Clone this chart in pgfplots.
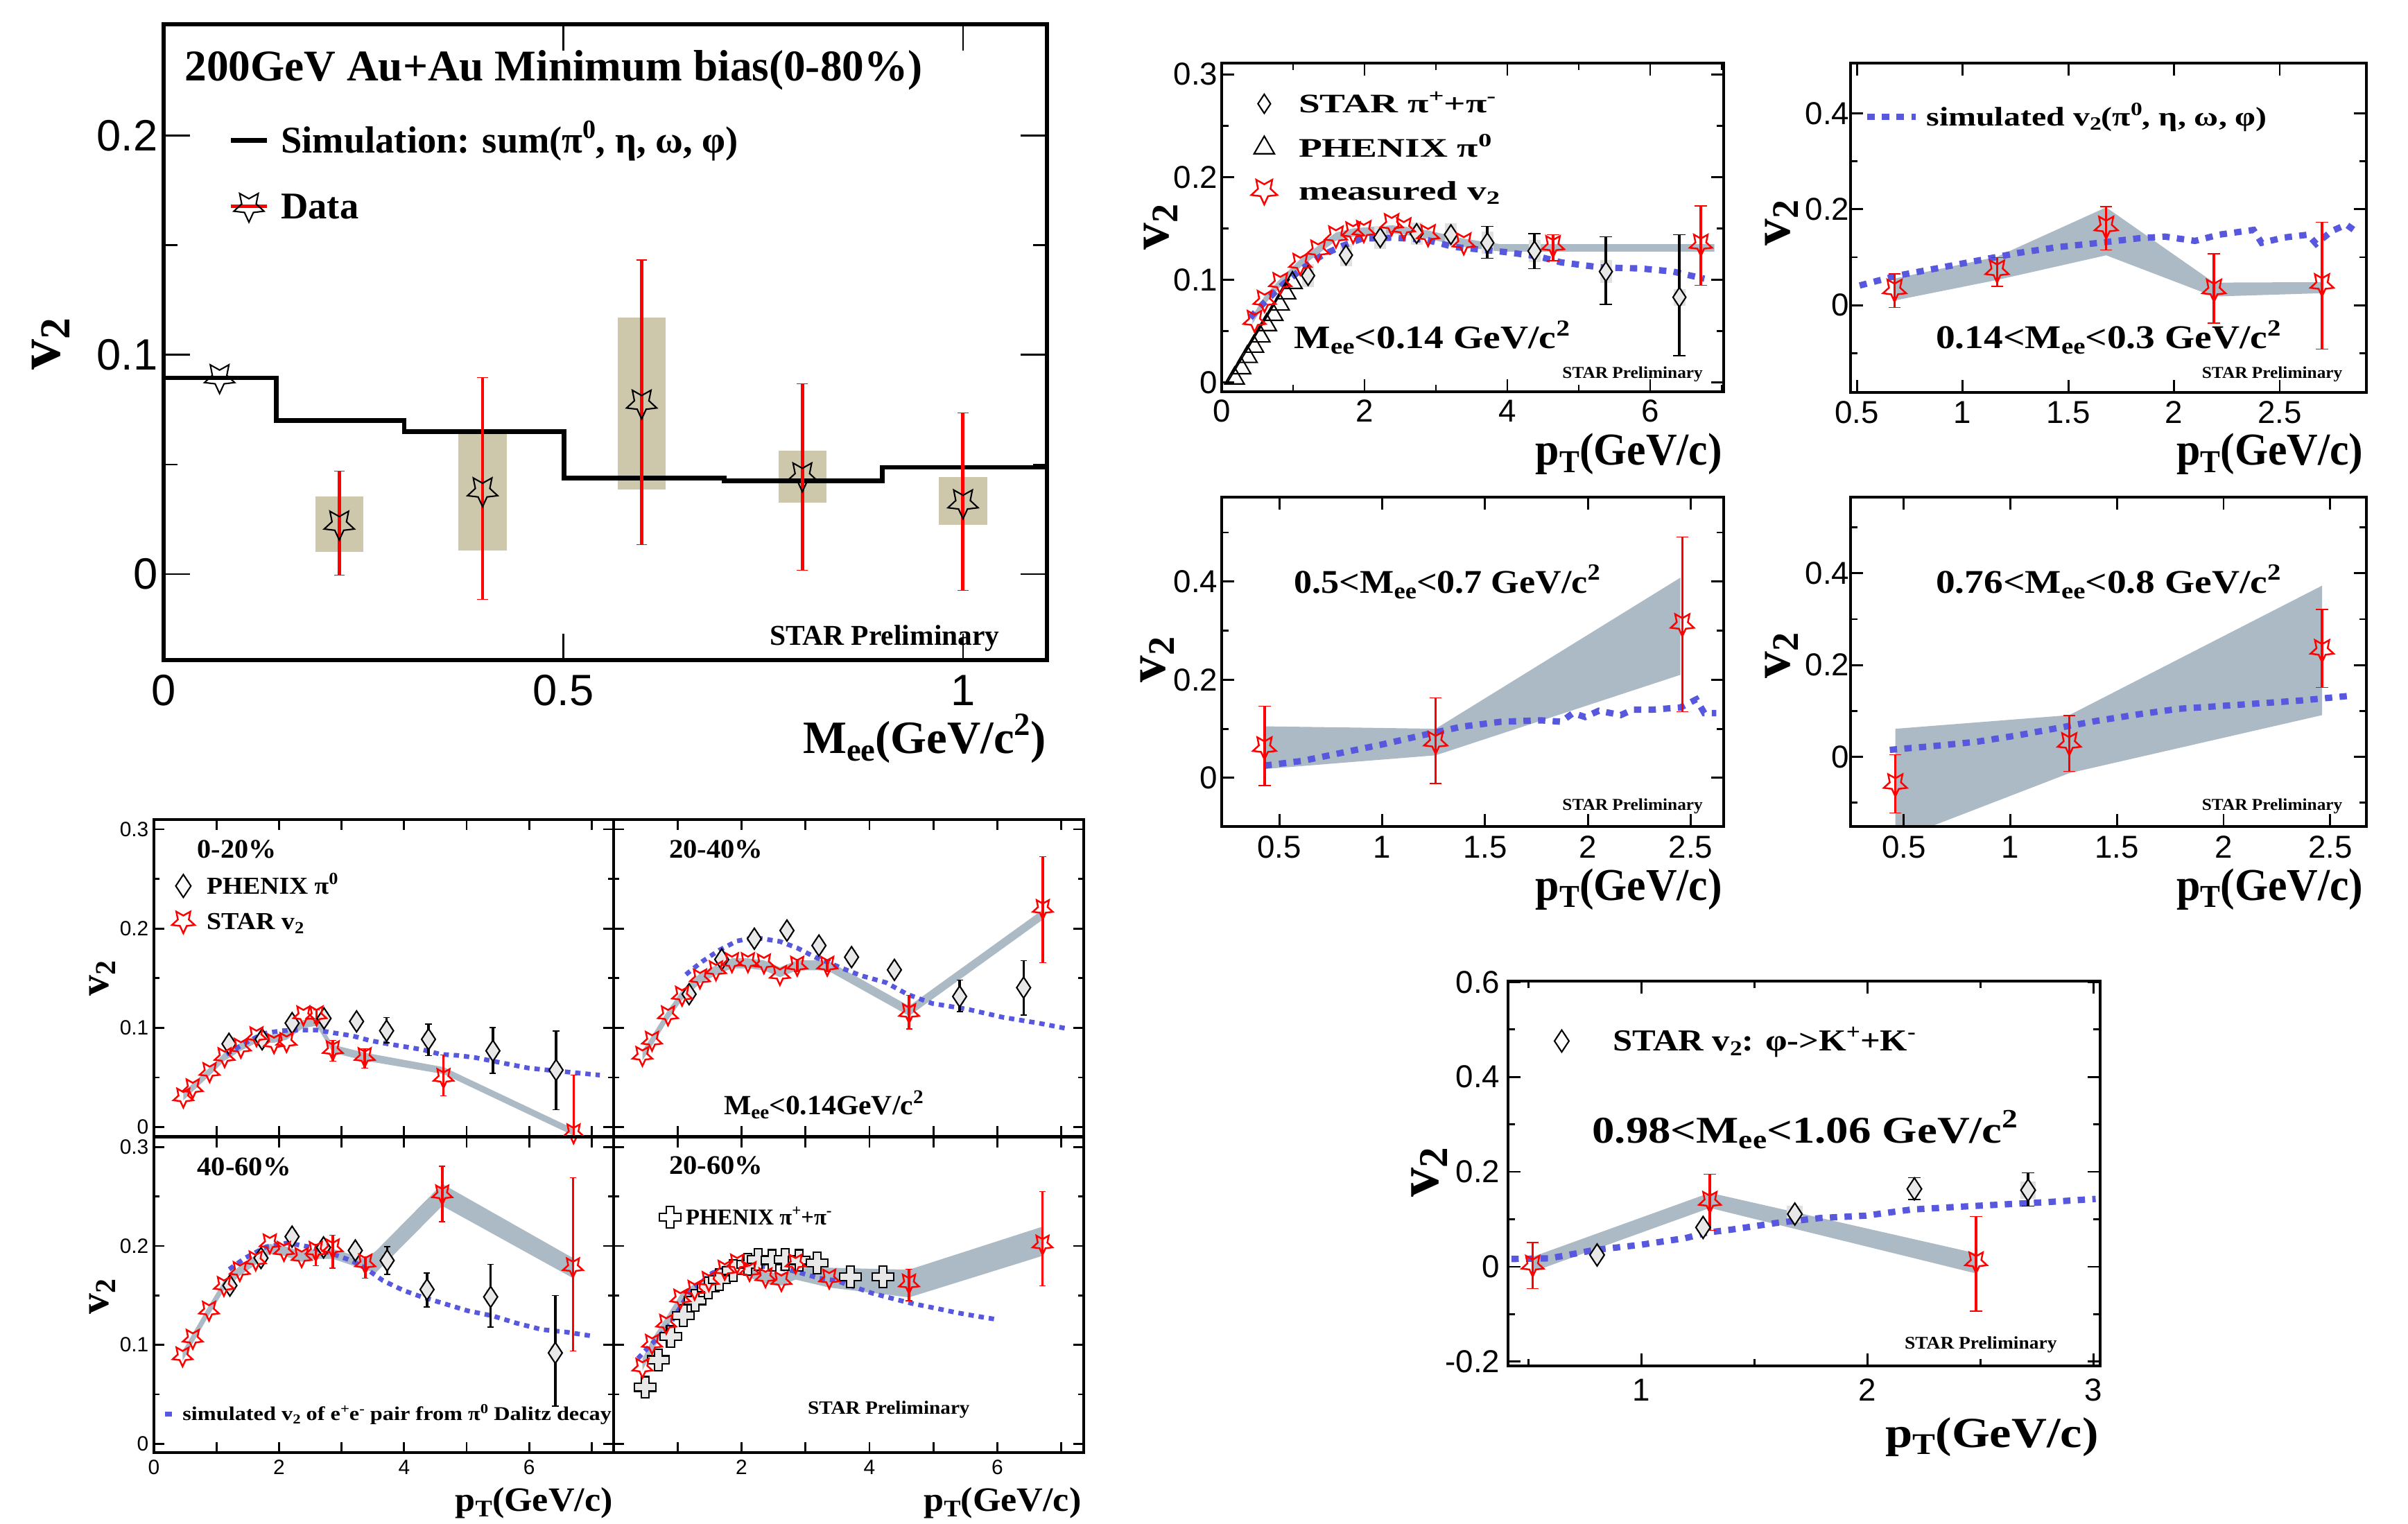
\documentclass[border=0pt]{standalone}
\usepackage{pgfplots}
\pgfplotsset{compat=1.18}
\usepackage{graphicx}
\usepackage{fontspec}
\setmainfont{Liberation Serif}
\newfontfamily\hv{Liberation Sans}

\definecolor{simblue}{RGB}{88,88,222}
\definecolor{bandc}{RGB}{172,186,197}
\definecolor{tanc}{RGB}{205,199,172}
\definecolor{sysg}{RGB}{224,224,224}
\definecolor{dfill}{RGB}{232,232,232}

\newcommand\fs[1]{\fontsize{#1}{#1}\selectfont}
\newcommand\T[3]{{\fs{#1}\bfseries\scalebox{#2}[1]{#3}}}
\newcommand\sub[1]{\raisebox{-0.35ex}{\scalebox{0.7}{#1}}}
\newcommand\sups[1]{\raisebox{0.85ex}{\scalebox{0.7}{#1}}}
\newcommand\LT[2]{\raisebox{0pt}[#1][0pt]{#2}}

% ROOT style markers: open star (point down), tall diamond, open cross
\newdimen\mkin
\pgfdeclareplotmark{ostar}{%
  \mkin=0.48\pgfplotmarksize\relax
  \pgfpathmoveto{\pgfpointpolar{270}{\pgfplotmarksize}}%
  \pgfpathlineto{\pgfpointpolar{306}{\mkin}}%
  \pgfpathlineto{\pgfpointpolar{342}{\pgfplotmarksize}}%
  \pgfpathlineto{\pgfpointpolar{18}{\mkin}}%
  \pgfpathlineto{\pgfpointpolar{54}{\pgfplotmarksize}}%
  \pgfpathlineto{\pgfpointpolar{90}{\mkin}}%
  \pgfpathlineto{\pgfpointpolar{126}{\pgfplotmarksize}}%
  \pgfpathlineto{\pgfpointpolar{162}{\mkin}}%
  \pgfpathlineto{\pgfpointpolar{198}{\pgfplotmarksize}}%
  \pgfpathlineto{\pgfpointpolar{234}{\mkin}}%
  \pgfpathclose\pgfusepathqstroke}
\pgfdeclareplotmark{tdia}{%
  \mkin=0.66\pgfplotmarksize\relax
  \pgfpathmoveto{\pgfqpoint{0pt}{\pgfplotmarksize}}%
  \pgfpathlineto{\pgfqpoint{\mkin}{0pt}}%
  \pgfpathlineto{\pgfqpoint{0pt}{-\pgfplotmarksize}}%
  \pgfpathlineto{\pgfqpoint{-\mkin}{0pt}}%
  \pgfpathclose\pgfusepathqfillstroke}
\pgfdeclareplotmark{ocross}{%
  \mkin=0.36\pgfplotmarksize\relax
  \pgfpathmoveto{\pgfqpoint{\mkin}{\pgfplotmarksize}}%
  \pgfpathlineto{\pgfqpoint{\mkin}{\mkin}}%
  \pgfpathlineto{\pgfqpoint{\pgfplotmarksize}{\mkin}}%
  \pgfpathlineto{\pgfqpoint{\pgfplotmarksize}{-\mkin}}%
  \pgfpathlineto{\pgfqpoint{\mkin}{-\mkin}}%
  \pgfpathlineto{\pgfqpoint{\mkin}{-\pgfplotmarksize}}%
  \pgfpathlineto{\pgfqpoint{-\mkin}{-\pgfplotmarksize}}%
  \pgfpathlineto{\pgfqpoint{-\mkin}{-\mkin}}%
  \pgfpathlineto{\pgfqpoint{-\pgfplotmarksize}{-\mkin}}%
  \pgfpathlineto{\pgfqpoint{-\pgfplotmarksize}{\mkin}}%
  \pgfpathlineto{\pgfqpoint{-\mkin}{\mkin}}%
  \pgfpathlineto{\pgfqpoint{-\mkin}{\pgfplotmarksize}}%
  \pgfpathclose\pgfusepathqfillstroke}

\pgfplotsset{
  rootax/.style={scale only axis, anchor=south west, axis on top, tick pos=both, tick align=inside,
    axis line style={line width=1.3pt}, tick style={line width=0.8pt, black},
    major tick length=0.18cm, minor tick length=0.1cm,
    tick label style={inner sep=0pt}, legend cell align=left},
  sim/.style={simblue, line width=2.6pt, dash pattern=on 3pt off 3pt, forget plot},
  sims/.style={simblue, line width=1.9pt, dash pattern=on 2.2pt off 2pt, forget plot},
  band/.style={fill=bandc, draw=none, forget plot},
  sysbox/.style={draw=none, mark=none, forget plot, error bars/y dir=both, error bars/y explicit,
    error bars/error mark=none, error bars/error bar style={draw=sysg, line width=#1}},
  rstar/.style={red, only marks, mark=ostar, mark size=#1, mark options={line width=0.7pt}, forget plot},
  kdia/.style={black, only marks, mark=tdia, mark size=#1, mark options={fill=dfill, line width=0.6pt}, forget plot},
  errb/.style={error bars/y dir=both, error bars/y explicit, error bars/error bar style={line width=1pt, mark size=#1}},
  mkleg/.style={legend image code/.code={\path (-0.2cm,0cm) (0.2cm,0cm); \draw[##1] plot coordinates {(0cm,0cm)};}},
  lnleg/.style={legend image code/.code={\draw[##1] (0cm,0cm) -- (#1,0cm);}},
  dataleg/.style={legend image code/.code={\draw[red, line width=1.4pt] (0cm,0cm) -- (0.52cm,0cm);
      \draw[black, line width=0.6pt, mark size=6.5pt] plot[mark=ostar] coordinates {(0.26cm,0cm)};}},
  leg/.style n args={4}{legend style={at={(#1,#2)}, anchor=north west, draw=none, fill=none,
      inner sep=0pt, row sep=#3, column sep=#4, nodes={inner sep=0pt, text depth=0pt}}},
}

\begin{document}
\begin{tikzpicture}
\useasboundingbox (0,0) rectangle (34.73cm,21.98cm);

% ---------------- minimum bias vs M_ee ----------------
\begin{axis}[rootax, at={(2.36cm,12.46cm)}, width=12.74cm, height=9.17cm,
  xmin=0, xmax=1.105, ymin=-0.0392, ymax=0.2508,
  xtick={0,0.5,1}, xticklabels={0,0.5,1}, ytick={0,0.1,0.2}, yticklabels={0,0.1,0.2}, minor ytick={0.05,0.15},
  major tick length=0.38cm, minor tick length=0.2cm, axis line style={line width=1.7pt},
  tick label style={font=\hv\fs{18}}, xticklabel style={yshift=-0.21cm}, yticklabel style={xshift=-0.08cm},
  leg={0.073}{0.8375}{0.584cm}{0.17cm}, legend style={font=\bfseries\fs{15.5}}]
\addplot[draw=none, mark=none, forget plot, error bars/y dir=both, error bars/y explicit,
  error bars/error mark=none, error bars/error bar style={draw=tanc, line width=19.7pt}]
  table[x=x, y=y, y error plus=ep, y error minus=em] {
x y ep em
0.2197 0.0228 0.0126 0.0128
0.399 0.038 0.028 0.0273
0.598 0.078 0.039 0.0393
0.799 0.0448 0.0116 0.0123
1.0 0.0325 0.0118 0.0101
};
\addplot[const plot, black, line width=1.9pt, forget plot] coordinates {
  (0,-0.0392) (0,0.0895) (0.141,0.070) (0.301,0.065) (0.501,0.0437) (0.701,0.0426) (0.899,0.0487) (1.105,0.0487)};
\addplot[black, only marks, mark=ostar, mark size=6.5pt, mark options={line width=0.6pt}, forget plot]
  coordinates {(0.070,0.0896)};
\addplot[black, only marks, mark=ostar, mark size=6.5pt, mark options={line width=0.6pt}, forget plot,
  error bars/y dir=both, error bars/y explicit, error bars/error bar style={red, line width=1.4pt, mark size=2.2pt}]
  table[x=x, y=y, y error plus=ep, y error minus=em] {
x y ep em
0.2197 0.0228 0.0242 0.0232
0.399 0.038 0.0516 0.0496
0.598 0.078 0.0653 0.0646
0.799 0.0448 0.0421 0.043
1.0 0.0325 0.041 0.0399
};
\addlegendimage{lnleg=0.52cm, black, line width=1.9pt}
\addlegendentry{\LT{0.36cm}{Simulation: sum(π\sups{0}, η, ω, φ)}}
\addlegendimage{dataleg}
\addlegendentry{\LT{0.36cm}{Data}}
\end{axis}

% ---------------- M_ee < 0.14 ----------------
\begin{axis}[rootax, at={(17.62cm,16.33cm)}, width=7.24cm, height=4.74cm,
  xmin=0, xmax=7.03, ymin=-0.009, ymax=0.311,
  xtick={0,2,4,6}, xticklabels={0,2,4,6}, minor xtick={1,3,5,7},
  ytick={0,0.1,0.2,0.3}, yticklabels={0,0.1,0.2,0.3}, minor ytick={0.05,0.15,0.25},
  tick label style={font=\hv\fs{13}}, xticklabel style={yshift=-0.11cm}, yticklabel style={xshift=-0.05cm},
  leg={0.0552}{0.9065}{0.33cm}{0.29cm}, legend style={font=\bfseries\fs{11}}]
\addplot[band] coordinates {(0.43,0.065) (0.60,0.084) (0.82,0.101) (1.10,0.120) (1.35,0.133) (1.60,0.146)
  (1.84,0.150) (2.0,0.151) (2.38,0.153) (2.55,0.152) (2.89,0.148) (3.39,0.140) (3.9,0.1347) (6.9,0.1347)
  (6.9,0.1275) (3.9,0.1275) (3.39,0.132) (2.89,0.140) (2.55,0.144) (2.38,0.145) (2.0,0.143) (1.84,0.142)
  (1.60,0.138) (1.35,0.125) (1.10,0.112) (0.82,0.093) (0.60,0.076) (0.43,0.057)};
\addplot[sysbox=4.8pt] table[x=x, y=y, y error=s] {
x y s
1.21 0.104 0.011
1.74 0.124 0.011
2.22 0.141 0.011
2.73 0.145 0.011
3.21 0.144 0.011
3.72 0.136 0.011
4.38 0.128 0.011
5.38 0.108 0.011
6.41 0.083 0.008
};
\addplot[sim] coordinates {(0.40,0.063) (0.57,0.076) (0.85,0.095) (1.13,0.111) (1.41,0.124) (1.69,0.133)
  (1.96,0.140) (2.40,0.141) (2.86,0.139) (3.25,0.132) (3.97,0.127) (4.42,0.123) (4.75,0.117) (5.31,0.112)
  (5.87,0.111) (6.32,0.108) (6.76,0.101)};
\addplot[black, line width=0.6pt, forget plot] coordinates {(0.08,0.0) (0.95,0.101)};
\addplot[black, only marks, mark=triangle, mark size=4.6pt, mark options={line width=0.6pt}, forget plot] coordinates {
  (0.18,0.004) (0.27,0.014) (0.36,0.025) (0.45,0.035) (0.54,0.045) (0.63,0.056) (0.72,0.066) (0.81,0.076) (0.90,0.087) (0.99,0.097)};
\addplot[kdia=4pt] coordinates {(1.21,0.104) (1.74,0.124) (2.22,0.141) (2.73,0.145) (3.21,0.144)};
\addplot[kdia=4pt, errb=2.5pt] table[x=x, y=y, y error plus=ep, y error minus=em] {
x y ep em
3.72 0.136 0.016 0.015
4.38 0.128 0.017 0.017
5.38 0.108 0.034 0.032
6.41 0.083 0.061 0.057
};
\addplot[rstar=4.8pt] coordinates {(0.46,0.0605) (0.60,0.080) (0.82,0.0973) (1.10,0.116) (1.35,0.129) (1.60,0.1427)
  (1.84,0.1467) (1.99,0.148) (2.38,0.1547) (2.55,0.1507) (2.89,0.144) (3.39,0.136)};
\addplot[rstar=4.8pt, errb=2.5pt] table[x=x, y=y, y error plus=ep, y error minus=em] {
x y ep em
4.64 0.1333 0.0107 0.0146
6.71 0.1347 0.0373 0.040
};
\addlegendimage{mkleg, black, only marks, mark=tdia, mark size=3.9pt, mark options={fill=white, line width=0.6pt}}
\addlegendentry{\LT{0.26cm}{\scalebox{1.43}[1]{STAR π\sups{+}+π\sups{-}}}}
\addlegendimage{mkleg, black, only marks, mark=triangle, mark size=4.8pt, mark options={line width=0.6pt}}
\addlegendentry{\LT{0.26cm}{\scalebox{1.43}[1]{PHENIX π\sups{0}}}}
\addlegendimage{mkleg, red, only marks, mark=ostar, mark size=5.6pt, mark options={line width=0.7pt}}
\addlegendentry{\LT{0.26cm}{\scalebox{1.43}[1]{measured v\sub{2}}}}
\end{axis}

% ---------------- 0.14 < M_ee < 0.3 ----------------
\begin{axis}[rootax, at={(26.69cm,16.32cm)}, width=7.44cm, height=4.75cm,
  xmin=0.47, xmax=2.91, ymin=-0.182, ymax=0.505,
  xtick={0.5,1,1.5,2,2.5}, xticklabels={0.5,1,1.5,2,2.5},
  ytick={0,0.2,0.4}, yticklabels={0,0.2,0.4}, minor ytick={-0.1,0.1,0.3},
  tick label style={font=\hv\fs{13}}, xticklabel style={yshift=-0.12cm}, yticklabel style={xshift=-0.01cm},
  leg={0.0255}{0.866}{0.2cm}{0.105cm}, legend style={font=\bfseries\fs{11}}]
\addplot[band] coordinates {(0.678,0.0554) (1.163,0.101) (1.679,0.204) (2.189,0.047) (2.70,0.048)
  (2.70,0.025) (2.189,0.018) (1.679,0.104) (1.163,0.0526) (0.678,0.0097)};
\addplot[sim] coordinates {(0.513,0.041) (0.685,0.061) (0.876,0.0766) (1.067,0.0926) (1.258,0.1086) (1.449,0.121)
  (1.64,0.1297) (1.831,0.1394) (1.956,0.143) (2.099,0.134) (2.213,0.147) (2.376,0.157) (2.414,0.13) (2.519,0.141)
  (2.634,0.147) (2.672,0.128) (2.748,0.155) (2.815,0.168) (2.863,0.153)};
\addplot[rstar=5pt, errb=2.5pt] table[x=x, y=y, y error plus=ep, y error minus=em] {
x y ep em
0.678 0.0326 0.0324 0.0376
1.163 0.0726 0.0268 0.0332
1.679 0.164 0.0417 0.0486
2.189 0.0326 0.0743 0.0703
2.70 0.044 0.1286 0.1354
};
\addlegendimage{lnleg=0.7cm, simblue, line width=2.6pt, dash pattern=on 3pt off 3pt}
\addlegendentry{\LT{0.26cm}{\scalebox{1.24}[1]{simulated v\sub{2}(π\sups{0}, η, ω, φ)}}}
\end{axis}

% ---------------- 0.5 < M_ee < 0.7 ----------------
\begin{axis}[rootax, at={(17.62cm,10.06cm)}, width=7.24cm, height=4.75cm,
  xmin=0.22, xmax=2.66, ymin=-0.099, ymax=0.572,
  xtick={0.5,1,1.5,2,2.5}, xticklabels={0.5,1,1.5,2,2.5},
  ytick={0,0.2,0.4}, yticklabels={0,0.2,0.4}, minor ytick={0.1,0.3,0.5},
  tick label style={font=\hv\fs{13}}, xticklabel style={yshift=-0.13cm}, yticklabel style={xshift=-0.05cm}]
\addplot[band] coordinates {(0.428,0.105) (0.844,0.1026) (1.26,0.100) (2.45,0.408) (2.45,0.21) (1.26,0.046) (0.428,0.018)};
\addplot[sim] coordinates {(0.428,0.025) (0.612,0.0346) (0.806,0.0513) (0.999,0.068) (1.192,0.0865) (1.386,0.1043)
  (1.579,0.1144) (1.773,0.1172) (1.87,0.1144) (1.928,0.132) (1.986,0.124) (2.053,0.1367) (2.16,0.128) (2.218,0.139)
  (2.315,0.139) (2.45,0.1434) (2.527,0.160) (2.566,0.132) (2.624,0.132)};
\addplot[rstar=5pt, errb=2.5pt] table[x=x, y=y, y error plus=ep, y error minus=em] {
x y ep em
0.428 0.0625 0.0835 0.0781
1.260 0.0736 0.0894 0.0853
2.459 0.3135 0.1775 0.1785
};
\end{axis}

% ---------------- 0.76 < M_ee < 0.8 ----------------
\begin{axis}[rootax, at={(26.69cm,10.06cm)}, width=7.44cm, height=4.75cm,
  xmin=0.25, xmax=2.67, ymin=-0.152, ymax=0.566,
  xtick={0.5,1,1.5,2,2.5}, xticklabels={0.5,1,1.5,2,2.5},
  ytick={0,0.2,0.4}, yticklabels={0,0.2,0.4}, minor ytick={-0.1,0.1,0.3,0.5},
  tick label style={font=\hv\fs{13}}, xticklabel style={yshift=-0.13cm}, yticklabel style={xshift=-0.01cm}]
\addplot[band] coordinates {(0.46,0.0609) (1.276,0.0907) (2.462,0.373) (2.462,0.0907) (1.276,-0.0358) (0.46,-0.182)};
\addplot[sim] coordinates {(0.434,0.015) (0.655,0.0239) (0.844,0.0328) (1.034,0.0466) (1.223,0.0627) (1.412,0.0788)
  (1.601,0.0925) (1.790,0.1045) (1.980,0.1104) (2.169,0.1164) (2.358,0.1224) (2.585,0.1325)};
\addplot[rstar=5pt, errb=2.5pt] table[x=x, y=y, y error plus=ep, y error minus=em] {
x y ep em
0.460 -0.0597 0.0645 0.0627
1.276 0.0299 0.0597 0.0615
2.462 0.2328 0.0884 0.0818
};
\end{axis}

% ---------------- 0.98 < M_ee < 1.06 ----------------
\begin{axis}[rootax, at={(21.75cm,2.28cm)}, width=8.54cm, height=5.55cm,
  xmin=0.41, xmax=3.03, ymin=-0.209, ymax=0.602,
  xtick={1,2,3}, xticklabels={1,2,3}, minor xtick={0.5,1.5,2.5},
  ytick={-0.2,0,0.2,0.4,0.6}, yticklabels={-0.2,0,0.2,0.4,0.6}, minor ytick={-0.1,0.1,0.3,0.5},
  tick label style={font=\hv\fs{13}}, xticklabel style={yshift=-0.18cm}, yticklabel style={xshift=-0.11cm},
  leg={0.0656}{0.874}{0.2cm}{0.53cm}, legend style={font=\bfseries\fs{12.5}}]
\addplot[band] coordinates {(0.519,0.021) (1.303,0.1558) (2.481,0.0283) (2.481,-0.0142) (1.303,0.1239) (0.519,-0.0106)};
\addplot[sysbox=6.5pt] table[x=x, y=y, y error=s] {
x y s
1.679 0.111 0.018
2.711 0.1614 0.018
};
\addplot[sim] coordinates {(0.425,0.0163) (0.595,0.0177) (0.794,0.0354) (0.994,0.046) (1.194,0.0602) (1.293,0.0722)
  (1.393,0.0779) (1.593,0.092) (1.792,0.1027) (1.992,0.1076) (2.192,0.1204) (2.391,0.126) (2.591,0.131)
  (2.790,0.136) (3.01,0.143)};
\addplot[kdia=4.5pt] coordinates {(0.804,0.0248) (1.273,0.0828) (1.679,0.111)};
\addplot[kdia=4.5pt, errb=2.5pt] table[x=x, y=y, y error plus=ep, y error minus=em] {
x y ep em
2.208 0.164 0.0236 0.0224
2.711 0.1614 0.0366 0.034
};
\addplot[rstar=4.7pt, errb=2.5pt] table[x=x, y=y, y error plus=ep, y error minus=em] {
x y ep em
0.519 0.0035 0.0475 0.0495
1.303 0.138 0.0567 0.0615
2.481 0.0106 0.0956 0.1041
};
\addlegendimage{mkleg, black, only marks, mark=tdia, mark size=4.5pt, mark options={fill=white, line width=0.6pt}}
\addlegendentry{\LT{0.29cm}{\scalebox{1.15}[1]{STAR v\sub{2}: φ->K\sups{+}+K\sups{-}}}}
\end{axis}

% ---------------- 0-20% ----------------
\begin{axis}[rootax, at={(2.22cm,5.59cm)}, width=6.63cm, height=4.57cm,
  xmin=0, xmax=7.35, ymin=-0.0093, ymax=0.3098,
  xtick={0,1,2,3,4,5,6,7}, xticklabels={}, ytick={0,0.1,0.2,0.3}, yticklabels={0,0.1,0.2,0.3},
  minor ytick={0.05,0.15,0.25}, major tick length=0.15cm, minor tick length=0.08cm,
  axis line style={line width=1.2pt},
  tick label style={font=\hv\fs{8.5}}, yticklabel style={xshift=-0.07cm},
  leg={0.0317}{0.828}{0.205cm}{0.13cm}, legend style={font=\bfseries\fs{10}}]
\addplot[band] coordinates {(0.47,0.035) (0.62,0.044) (0.89,0.060) (1.13,0.075) (1.39,0.085) (1.64,0.093) (1.92,0.093)
  (2.12,0.096) (2.39,0.108) (2.60,0.110) (2.86,0.083) (3.37,0.075) (4.63,0.0605) (6.71,-0.0015)
  (6.71,-0.0085) (4.63,0.0535) (3.37,0.067) (2.86,0.075) (2.60,0.102) (2.39,0.100) (2.12,0.088) (1.92,0.085)
  (1.64,0.085) (1.39,0.077) (1.13,0.067) (0.89,0.052) (0.62,0.036) (0.47,0.027)};
\addplot[sysbox=3.7pt] table[x=x, y=y, y error=s] {
x y s
1.20 0.0839 0.007
1.73 0.0885 0.007
2.21 0.1048 0.007
2.72 0.1095 0.007
3.24 0.1065 0.007
3.72 0.0971 0.007
4.39 0.0885 0.007
5.42 0.0769 0.007
6.43 0.0575 0.007
};
\addplot[sims] coordinates {(1.16,0.0734) (1.47,0.085) (1.75,0.0943) (2.04,0.0971) (2.32,0.0978) (2.60,0.0978)
  (2.89,0.0948) (3.17,0.092) (3.45,0.0873) (3.74,0.0839) (4.30,0.078) (4.58,0.0734) (4.87,0.0722) (5.15,0.0699)
  (5.43,0.0664) (6.00,0.0594) (6.56,0.0559) (7.13,0.0524)};
\addplot[kdia=4.3pt] coordinates {(1.20,0.0839) (1.73,0.0885) (2.21,0.1048) (2.72,0.1095) (3.24,0.1065)};
\addplot[kdia=4.3pt, errb=1.3pt] table[x=x, y=y, y error plus=ep, y error minus=em] {
x y ep em
3.72 0.0971 0.0135 0.0121
4.39 0.0885 0.0152 0.0163
5.42 0.0769 0.0233 0.0226
6.43 0.0575 0.0392 0.040
};
\addplot[rstar=4.3pt] coordinates {(0.47,0.0303) (0.62,0.0396) (0.89,0.0559) (1.13,0.0710) (1.39,0.0804) (1.64,0.092)
  (1.92,0.085) (2.12,0.0862) (2.39,0.113)};
\addplot[rstar=4.3pt, errb=1.3pt] table[x=x, y=y, y error plus=ep, y error minus=em] {
x y ep em
2.60 0.113 0.005 0.008
2.86 0.078 0.0093 0.0116
3.37 0.071 0.0082 0.0116
4.63 0.050 0.0229 0.0186
6.71 -0.0058 0.0582 0.01
};
\addlegendimage{mkleg, black, only marks, mark=tdia, mark size=4.7pt, mark options={fill=white, line width=0.6pt}}
\addlegendentry{\LT{0.233cm}{\scalebox{1.07}[1]{PHENIX π\sups{0}}}}
\addlegendimage{mkleg, red, only marks, mark=ostar, mark size=4.9pt, mark options={line width=0.7pt}}
\addlegendentry{\LT{0.233cm}{\scalebox{1.08}[1]{STAR v\sub{2}}}}
\end{axis}

% ---------------- 20-40% ----------------
\begin{axis}[rootax, at={(8.85cm,5.59cm)}, width=6.78cm, height=4.57cm,
  xmin=0, xmax=7.35, ymin=-0.0093, ymax=0.3098,
  xtick={0,1,2,3,4,5,6,7}, xticklabels={}, ytick={0,0.1,0.2,0.3}, yticklabels={},
  minor ytick={0.05,0.15,0.25}, major tick length=0.15cm, minor tick length=0.08cm,
  axis line style={line width=1.2pt}]
\addplot[band] coordinates {(0.45,0.077) (0.60,0.092) (0.85,0.118) (1.07,0.138) (1.35,0.155) (1.60,0.163) (1.85,0.170)
  (2.10,0.170) (2.35,0.168) (2.60,0.161) (2.87,0.168) (3.34,0.168) (4.62,0.122) (6.71,0.219)
  (6.71,0.209) (4.62,0.112) (3.34,0.158) (2.87,0.158) (2.60,0.151) (2.35,0.158) (2.10,0.160) (1.85,0.160)
  (1.60,0.153) (1.35,0.145) (1.07,0.128) (0.85,0.108) (0.60,0.082) (0.45,0.067)};
\addplot[sysbox=3.7pt] table[x=x, y=y, y error=s] {
x y s
1.18 0.1339 0.007
1.69 0.1689 0.007
2.20 0.1898 0.007
2.71 0.198 0.007
3.21 0.1829 0.007
3.72 0.1712 0.007
4.39 0.1584 0.007
5.41 0.1316 0.007
6.41 0.1405 0.007
};
\addplot[sims] coordinates {(1.13,0.1537) (1.38,0.1666) (1.65,0.1782) (1.93,0.1875) (2.21,0.191) (2.60,0.187)
  (2.87,0.1805) (3.15,0.1712) (3.59,0.1596) (3.87,0.1526) (4.26,0.1456) (4.59,0.1339) (4.98,0.1246) (5.53,0.1188)
  (6.09,0.1106) (6.64,0.1048) (7.11,0.099)};
\addplot[kdia=4.3pt] coordinates {(1.18,0.1339) (1.69,0.1689) (2.20,0.1898) (2.71,0.198) (3.21,0.1829) (3.72,0.1712) (4.39,0.1584)};
\addplot[kdia=4.3pt, errb=1.3pt] table[x=x, y=y, y error plus=ep, y error minus=em] {
x y ep em
5.41 0.1316 0.0164 0.0151
6.41 0.1405 0.0272 0.0275
};
\addplot[rstar=4.3pt] coordinates {(0.45,0.0722) (0.60,0.0874) (0.85,0.113) (1.07,0.1328) (1.35,0.1502) (1.60,0.1584)
  (1.85,0.1666) (2.10,0.1666) (2.35,0.1654) (2.60,0.1537)};
\addplot[rstar=4.3pt, errb=1.3pt] table[x=x, y=y, y error plus=ep, y error minus=em] {
x y ep em
2.87 0.163 0.006 0.006
3.34 0.163 0.005 0.006
4.62 0.1153 0.0175 0.0163
6.71 0.2201 0.0524 0.0547
};
\end{axis}

% ---------------- 40-60% ----------------
\begin{axis}[rootax, at={(2.22cm,1.03cm)}, width=6.63cm, height=4.55cm,
  xmin=0, xmax=7.35, ymin=-0.0088, ymax=0.310,
  xtick={0,1,2,3,4,5,6,7}, xticklabels={0,,2,,4,,6,}, ytick={0,0.1,0.2,0.3}, yticklabels={0,0.1,0.2,0.3},
  minor ytick={0.05,0.15,0.25}, major tick length=0.15cm, minor tick length=0.08cm,
  axis line style={line width=1.2pt},
  tick label style={font=\hv\fs{8.5}}, xticklabel style={yshift=-0.1cm}, yticklabel style={xshift=-0.07cm},
  leg={0.018}{0.1435}{0.2cm}{0.12cm}, legend style={font=\bfseries\fs{8}}]
\addplot[band] coordinates {(0.458,0.0938) (0.621,0.1116) (0.881,0.140) (1.119,0.165) (1.373,0.180) (1.627,0.191)
  (1.853,0.202) (2.079,0.200) (2.362,0.194) (2.588,0.197) (2.859,0.197) (3.379,0.187) (3.55,0.195) (4.61,0.2627) (6.70,0.1878)
  (6.70,0.1675) (4.61,0.2405) (3.55,0.173) (3.379,0.176) (2.859,0.187) (2.588,0.187) (2.362,0.184) (2.079,0.190)
  (1.853,0.192) (1.627,0.181) (1.373,0.170) (1.119,0.155) (0.881,0.130) (0.621,0.1016) (0.458,0.0838)};
\addplot[sysbox=3.7pt] table[x=x, y=y, y error=s] {
x y s
1.215 0.160 0.007
1.712 0.1878 0.007
2.209 0.2094 0.007
2.712 0.1985 0.007
3.220 0.1954 0.007
3.729 0.1853 0.007
4.367 0.156 0.007
5.384 0.1485 0.007
6.418 0.0919 0.007
};
\addplot[sims] coordinates {(1.203,0.1764) (1.458,0.1878) (1.797,0.1992) (2.136,0.203) (2.475,0.1992) (2.814,0.1929)
  (3.153,0.1853) (3.379,0.1777) (3.661,0.165) (4.0,0.1548) (4.282,0.1485) (4.621,0.1421) (5.017,0.1345)
  (5.412,0.1294) (5.808,0.1218) (6.203,0.1155) (6.599,0.1129) (6.994,0.1091)};
\addplot[kdia=4.3pt] coordinates {(1.215,0.160) (1.712,0.1878) (2.209,0.2094) (2.712,0.1985) (3.220,0.1954)};
\addplot[kdia=4.3pt, errb=1.3pt] table[x=x, y=y, y error plus=ep, y error minus=em] {
x y ep em
3.729 0.1853 0.0139 0.014
4.367 0.156 0.0166 0.0177
5.384 0.1485 0.033 0.0305
6.418 0.0919 0.0578 0.0539
};
\addplot[rstar=4.3pt] coordinates {(0.458,0.0888) (0.621,0.1066) (0.881,0.135) (1.119,0.160) (1.373,0.1751)
  (1.627,0.1858) (1.853,0.203) (2.079,0.1954) (2.362,0.1891)};
\addplot[rstar=4.3pt, errb=1.3pt] table[x=x, y=y, y error plus=ep, y error minus=em] {
x y ep em
2.588 0.1954 0.006 0.0154
2.859 0.198 0.0127 0.0203
3.379 0.1827 0.0063 0.0152
4.61 0.2525 0.028 0.0279
6.70 0.1789 0.0901 0.085
};
\addlegendimage{lnleg=0.1cm, simblue, line width=1.9pt}
\addlegendentry{\LT{0.186cm}{\scalebox{1.15}[1]{simulated v\sub{2} of e\sups{+}e\sups{-} pair from π\sups{0} Dalitz decay}}}
\end{axis}

% ---------------- 20-60% ----------------
\begin{axis}[rootax, at={(8.85cm,1.03cm)}, width=6.78cm, height=4.55cm,
  xmin=0, xmax=7.35, ymin=-0.0088, ymax=0.310,
  xtick={0,1,2,3,4,5,6,7}, xticklabels={,,2,,4,,6,}, ytick={0,0.1,0.2,0.3}, yticklabels={},
  minor ytick={0.05,0.15,0.25}, major tick length=0.15cm, minor tick length=0.08cm,
  axis line style={line width=1.2pt},
  tick label style={font=\hv\fs{8.5}}, xticklabel style={yshift=-0.1cm},
  leg={0.0886}{0.781}{0.2cm}{0.02cm}, legend style={font=\bfseries\fs{9.3}}]
\addplot[band] coordinates {(0.451,0.086) (0.601,0.106) (0.823,0.128) (1.044,0.151) (1.266,0.162) (1.488,0.171)
  (1.737,0.181) (1.931,0.184) (2.125,0.180) (2.374,0.174) (2.623,0.172) (2.845,0.178) (3.371,0.178) (4.618,0.176)
  (6.706,0.2195) (6.706,0.19) (4.618,0.148) (3.371,0.158) (2.845,0.166) (2.623,0.16) (2.374,0.162) (2.125,0.168)
  (1.931,0.172) (1.737,0.169) (1.488,0.159) (1.266,0.15) (1.044,0.139) (0.823,0.116) (0.601,0.094) (0.451,0.074)};
\addplot[sims] coordinates {(0.38,0.0863) (0.546,0.0977) (0.684,0.1066) (0.85,0.118) (0.96,0.1294) (1.21,0.156)
  (1.38,0.1637) (1.54,0.1726) (1.82,0.1789) (2.04,0.1827) (2.26,0.1802) (2.48,0.1777) (2.71,0.1764) (2.93,0.1726)
  (3.21,0.1675) (3.48,0.165) (3.70,0.1599) (4.04,0.1523) (4.31,0.1477) (4.65,0.1421) (5.03,0.1371) (5.37,0.1325)
  (5.64,0.1294) (6.0,0.1256)};
\addplot[black, only marks, mark=ocross, mark size=4.4pt, mark options={fill=dfill, line width=0.6pt}, forget plot] coordinates {
  (0.49,0.0571) (0.70,0.085) (0.89,0.1086) (1.09,0.1294) (1.27,0.1447) (1.48,0.1574) (1.65,0.1662) (1.87,0.1751)
  (2.10,0.1815) (2.26,0.1865) (2.48,0.1853) (2.68,0.1865) (2.90,0.1853) (3.18,0.1827) (3.70,0.1688) (4.21,0.1688)};
\addplot[rstar=4.3pt] coordinates {(0.451,0.0774) (0.601,0.1015) (0.823,0.1218) (1.044,0.1472) (1.266,0.1561)
  (1.488,0.165) (1.737,0.1764) (1.931,0.1827) (2.125,0.1751) (2.374,0.1688) (2.623,0.165) (2.845,0.1827) (3.371,0.1675)};
\addplot[rstar=4.3pt, errb=1.3pt] table[x=x, y=y, y error plus=ep, y error minus=em] {
x y ep em
4.618 0.1624 0.014 0.0177
6.706 0.2018 0.0533 0.0419
};
\addlegendimage{mkleg, black, only marks, mark=ocross, mark size=4.4pt, mark options={fill=white, line width=0.6pt}}
\addlegendentry{\LT{0.217cm}{PHENIX π\sups{+}+π\sups{-}}}
\end{axis}

% ---------------- text in picture pixels ----------------
\begin{scope}[x=0.01cm, y=-0.01cm, shift={(0cm,21.98cm)}, every node/.style={inner sep=0pt}]
\node[anchor=base west] at (266,117) {\T{18}{1}{200GeV Au+Au Minimum bias(0-80\%)}};
\node[anchor=base west] at (1110,931) {\T{11.8}{1}{STAR Preliminary}};
\node[rotate=90] at (73,496) {\T{25}{1}{v\sub{2}}};
\node[anchor=base east] at (1510,1087) {\T{19}{1}{M\sub{ee}(GeV/c\sups{2})}};

\node[anchor=base west] at (1867,503) {\T{13.4}{1.18}{M\sub{ee}<0.14 GeV/c\sups{2}}};
\node[anchor=base west] at (2254,546) {\T{6.8}{1.06}{STAR Preliminary}};
\node[rotate=90] at (1675,328) {\T{22}{1}{v\sub{2}}};
\node[anchor=base east] at (2486,671) {\T{18.7}{0.94}{p\sub{T}(GeV/c)}};

\node[anchor=base west] at (2793,503) {\T{13.6}{1.16}{0.14<M\sub{ee}<0.3 GeV/c\sups{2}}};
\node[anchor=base west] at (3177,546) {\T{6.8}{1.06}{STAR Preliminary}};
\node[rotate=90] at (2571,322) {\T{22}{1}{v\sub{2}}};
\node[anchor=base east] at (3411,671) {\T{18.7}{0.94}{p\sub{T}(GeV/c)}};

\node[anchor=base west] at (1867,856) {\T{13.6}{1.09}{0.5<M\sub{ee}<0.7 GeV/c\sups{2}}};
\node[anchor=base west] at (2254,1169) {\T{6.8}{1.06}{STAR Preliminary}};
\node[rotate=90] at (1670,952) {\T{22}{1}{v\sub{2}}};
\node[anchor=base east] at (2486,1299) {\T{18.7}{0.94}{p\sub{T}(GeV/c)}};

\node[anchor=base west] at (2793,856) {\T{13.6}{1.16}{0.76<M\sub{ee}<0.8 GeV/c\sups{2}}};
\node[anchor=base west] at (3177,1169) {\T{6.8}{1.06}{STAR Preliminary}};
\node[rotate=90] at (2571,946) {\T{22}{1}{v\sub{2}}};
\node[anchor=base east] at (3411,1299) {\T{18.7}{0.94}{p\sub{T}(GeV/c)}};

\node[anchor=base west] at (2297,1649) {\T{15.5}{1.19}{0.98<M\sub{ee}<1.06 GeV/c\sups{2}}};
\node[anchor=base west] at (2748,1947) {\T{7.3}{1.07}{STAR Preliminary}};
\node[rotate=90] at (2063,1692) {\T{24}{1}{v\sub{2}}};
\node[anchor=base east] at (3029,2089) {\T{17.6}{1.14}{p\sub{T}(GeV/c)}};

\node[anchor=base west] at (284,1238) {\T{11}{1.04}{0-20\%}};
\node[anchor=base west] at (965,1238) {\T{11}{1.05}{20-40\%}};
\node[anchor=base west] at (1044,1608) {\T{11.4}{1.04}{M\sub{ee}<0.14GeV/c\sups{2}}};
\node[anchor=base west] at (284,1697) {\T{11}{1.05}{40-60\%}};
\node[anchor=base west] at (965,1695) {\T{11}{1.05}{20-60\%}};
\node[anchor=base west] at (1165,2041) {\T{7.7}{1.08}{STAR Preliminary}};
\node[rotate=90] at (148,1412) {\T{17}{1}{v\sub{2}}};
\node[rotate=90] at (148,1871) {\T{17}{1}{v\sub{2}}};
\node[anchor=base east] at (885,2181) {\T{14}{1.06}{p\sub{T}(GeV/c)}};
\node[anchor=base east] at (1561,2181) {\T{14}{1.06}{p\sub{T}(GeV/c)}};
\end{scope}
\end{tikzpicture}
\end{document}
